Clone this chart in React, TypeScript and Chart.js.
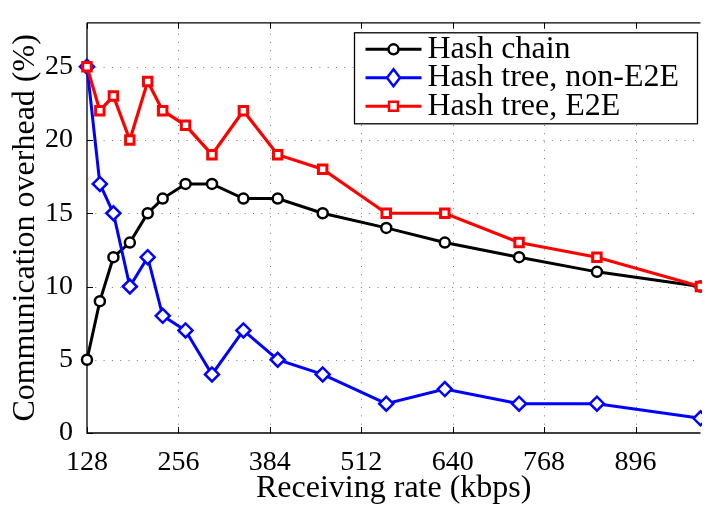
import { useEffect, useRef } from 'react';
import { Chart, registerables } from 'chart.js';

Chart.register(...registerables);

// Receiving rate (kbps) at which each overhead sample was taken
const rates = [128, 146, 165, 188, 213, 234, 266, 303, 347, 395, 458, 547, 629, 733, 842, 987];
// Communication overhead (%) per scheme
const hashChain = [5, 9, 12, 13, 15, 16, 17, 17, 16, 16, 15, 14, 13, 12, 11, 10];
const treeNonE2E = [25, 17, 15, 10, 12, 8, 7, 4, 7, 5, 4, 2, 3, 2, 2, 1];
const treeE2E = [25, 22, 23, 20, 24, 22, 21, 19, 22, 19, 18, 15, 15, 13, 12, 10];

const seriesLabels = ['Hash chain', 'Hash tree, non-E2E', 'Hash tree, E2E'];
const rateTicks = [128, 256, 384, 512, 640, 768, 896];
const overheadTicks = [0, 5, 10, 15, 20, 25];

const SERIF = "'Liberation Serif'";

const toPoints = (ys: number[]) => rates.map((x, i) => ({ x, y: ys[i] }));

// Opaque white page behind everything
const paperPlugin = {
  id: 'paper',
  beforeDraw(chart: any) {
    const { ctx, width, height } = chart;
    ctx.save();
    ctx.fillStyle = '#ffffff';
    ctx.fillRect(0, 0, width, height);
    ctx.restore();
  },
  afterDraw(chart: any) {
    // Commit the finished frame to the bitmap
    try {
      chart.ctx.getImageData(0, 0, 1, 1);
    } catch (e) {
      /* ignore */
    }
  },
};

// Dotted grid, axes box and inward tick marks
const framePlugin = {
  id: 'frame',
  beforeDatasetsDraw(chart: any) {
    const { ctx, chartArea: a, scales } = chart;
    const xs = scales.x;
    const ys = scales.y;
    ctx.save();
    ctx.strokeStyle = '#7a7a7a';
    ctx.lineWidth = 1;
    ctx.setLineDash([1, 7.3]);
    rateTicks.forEach((v) => {
      if (v === rateTicks[0]) return;
      const px = Math.round(xs.getPixelForValue(v)) + 0.5;
      ctx.beginPath();
      ctx.moveTo(px, a.bottom);
      ctx.lineTo(px, a.top);
      ctx.stroke();
    });
    overheadTicks.forEach((v) => {
      if (v === 0) return;
      const py = Math.round(ys.getPixelForValue(v)) + 0.5;
      ctx.beginPath();
      ctx.moveTo(a.left, py);
      ctx.lineTo(a.right, py);
      ctx.stroke();
    });
    ctx.setLineDash([]);

    ctx.strokeStyle = '#000';
    ctx.lineWidth = 1.3;
    ctx.beginPath();
    ctx.moveTo(a.left, a.top);
    ctx.lineTo(a.left, a.bottom);
    ctx.lineTo(a.right, a.bottom);
    ctx.moveTo(a.left, a.top);
    ctx.lineTo(a.right, a.top);
    ctx.stroke();

    ctx.lineWidth = 1;
    const tl = 6;
    rateTicks.forEach((v) => {
      const px = Math.round(xs.getPixelForValue(v)) + 0.5;
      ctx.beginPath();
      ctx.moveTo(px, a.bottom);
      ctx.lineTo(px, a.bottom - tl);
      ctx.moveTo(px, a.top);
      ctx.lineTo(px, a.top + tl);
      ctx.stroke();
    });
    overheadTicks.forEach((v) => {
      const py = Math.round(ys.getPixelForValue(v)) + 0.5;
      ctx.beginPath();
      ctx.moveTo(a.left, py);
      ctx.lineTo(a.left + tl, py);
      ctx.stroke();
    });
    ctx.restore();
  },
};

function drawMarker(ctx: CanvasRenderingContext2D, style: string, x: number, y: number, color: string) {
  ctx.save();
  ctx.strokeStyle = color;
  ctx.fillStyle = '#fff';
  ctx.lineWidth = 2.5;
  ctx.beginPath();
  if (style === 'circle') {
    ctx.arc(x, y, 5, 0, Math.PI * 2);
  } else if (style === 'rectRot') {
    ctx.moveTo(x, y - 8.5);
    ctx.lineTo(x + 6.5, y);
    ctx.lineTo(x, y + 8.5);
    ctx.lineTo(x - 6.5, y);
    ctx.closePath();
  } else {
    ctx.rect(x - 4.5, y - 4.5, 9, 9);
  }
  ctx.fill();
  ctx.stroke();
  ctx.restore();
}

// Boxed legend in the upper right corner of the plot area
const legendPlugin = {
  id: 'boxLegend',
  afterDatasetsDraw(chart: any) {
    const { ctx, chartArea: a } = chart;
    const w = 343;
    const h = 91;
    const right = a.right - 3;
    const top = a.top + 10;
    const left = right - w;
    ctx.save();
    ctx.fillStyle = '#fff';
    ctx.fillRect(left, top, w, h);
    ctx.strokeStyle = '#000';
    ctx.lineWidth = 1.3;
    ctx.strokeRect(left, top, w, h);
    ctx.font = `32px ${SERIF}`;
    ctx.textBaseline = 'middle';
    ctx.textAlign = 'left';
    chart.data.datasets.forEach((ds: any, i: number) => {
      const cy = top + 16.5 + i * 28.5;
      ctx.strokeStyle = ds.borderColor;
      ctx.lineWidth = 3;
      ctx.beginPath();
      ctx.moveTo(left + 11, cy);
      ctx.lineTo(left + 67, cy);
      ctx.stroke();
      drawMarker(ctx, ds.pointStyle, left + 39, cy, ds.borderColor);
      ctx.fillStyle = '#000';
      ctx.fillText(ds.label, left + 73, cy);
    });
    ctx.restore();
  },
};

export default function App() {
  const canvasRef = useRef<HTMLCanvasElement | null>(null);

  useEffect(() => {
    const canvas = canvasRef.current;
    if (!canvas) return;

    // Software-backed 2D context; Chart.js picks up this same context
    canvas.getContext('2d', { willReadFrequently: true } as any);

    const chart = new Chart(canvas, {
      type: 'line',
      data: {
        datasets: [
          {
            label: seriesLabels[0],
            data: toPoints(hashChain),
            borderColor: '#000000',
            backgroundColor: '#ffffff',
            borderWidth: 3,
            pointStyle: 'circle',
            pointRadius: 5,
            pointBorderWidth: 2.5,
            pointBackgroundColor: '#ffffff',
            order: 2,
            clip: false,
          },
          {
            label: seriesLabels[1],
            data: toPoints(treeNonE2E),
            borderColor: '#0000ff',
            backgroundColor: '#ffffff',
            borderWidth: 3,
            pointStyle: 'rectRot',
            pointRadius: 7,
            pointBorderWidth: 2.5,
            pointBackgroundColor: '#ffffff',
            order: 1,
            clip: false,
          },
          {
            label: seriesLabels[2],
            data: toPoints(treeE2E),
            borderColor: '#ff0000',
            backgroundColor: '#ffffff',
            borderWidth: 3.2,
            pointStyle: 'rect',
            pointRadius: 6,
            pointBorderWidth: 3,
            pointBackgroundColor: '#ffffff',
            order: 0,
            clip: false,
          },
        ] as any,
      },
      options: {
        responsive: false,
        animation: false,
        layout: { padding: { top: 6, left: 0, right: 0, bottom: 0 } },
        plugins: {
          legend: { display: false },
          tooltip: { enabled: false },
        },
        elements: { line: { tension: 0 } },
        scales: {
          x: {
            type: 'linear',
            min: rates[0],
            max: rates[rates.length - 1],
            grid: { display: false },
            border: { display: false },
            afterBuildTicks: (scale: any) => {
              scale.ticks = rateTicks.map((value) => ({ value }));
            },
            afterFit: (scale: any) => {
              scale.height = 72;
            },
            ticks: {
              autoSkip: false,
              maxRotation: 0,
              padding: 5,
              color: '#000',
              font: { family: SERIF, size: 28, lineHeight: 1.2 },
            },
            title: {
              display: true,
              text: 'Receiving rate (kbps)',
              color: '#000',
              font: { family: SERIF, size: 32, lineHeight: 1 },
              padding: { top: 0, bottom: 0 },
            },
          },
          y: {
            type: 'linear',
            min: 0,
            max: 28,
            grid: { display: false },
            border: { display: false },
            afterBuildTicks: (scale: any) => {
              scale.ticks = overheadTicks.map((value) => ({ value }));
            },
            afterFit: (scale: any) => {
              scale.width = 87;
            },
            ticks: {
              padding: 6,
              color: '#000',
              font: { family: SERIF, size: 28, lineHeight: 1.2 },
            },
            title: {
              display: true,
              text: 'Communication overhead (%)',
              color: '#000',
              font: { family: SERIF, size: 32, lineHeight: 1 },
              padding: { top: 10, bottom: 0 },
            },
          },
        },
      } as any,
      plugins: [paperPlugin, framePlugin, legendPlugin],
    });
    return () => chart.destroy();
  }, []);

  return (
    <div>
      <canvas
        ref={canvasRef}
        width={710}
        height={505}
        style={{ display: 'block', margin: '-8px 0 0 -8px' }}
      />
    </div>
  );
}
